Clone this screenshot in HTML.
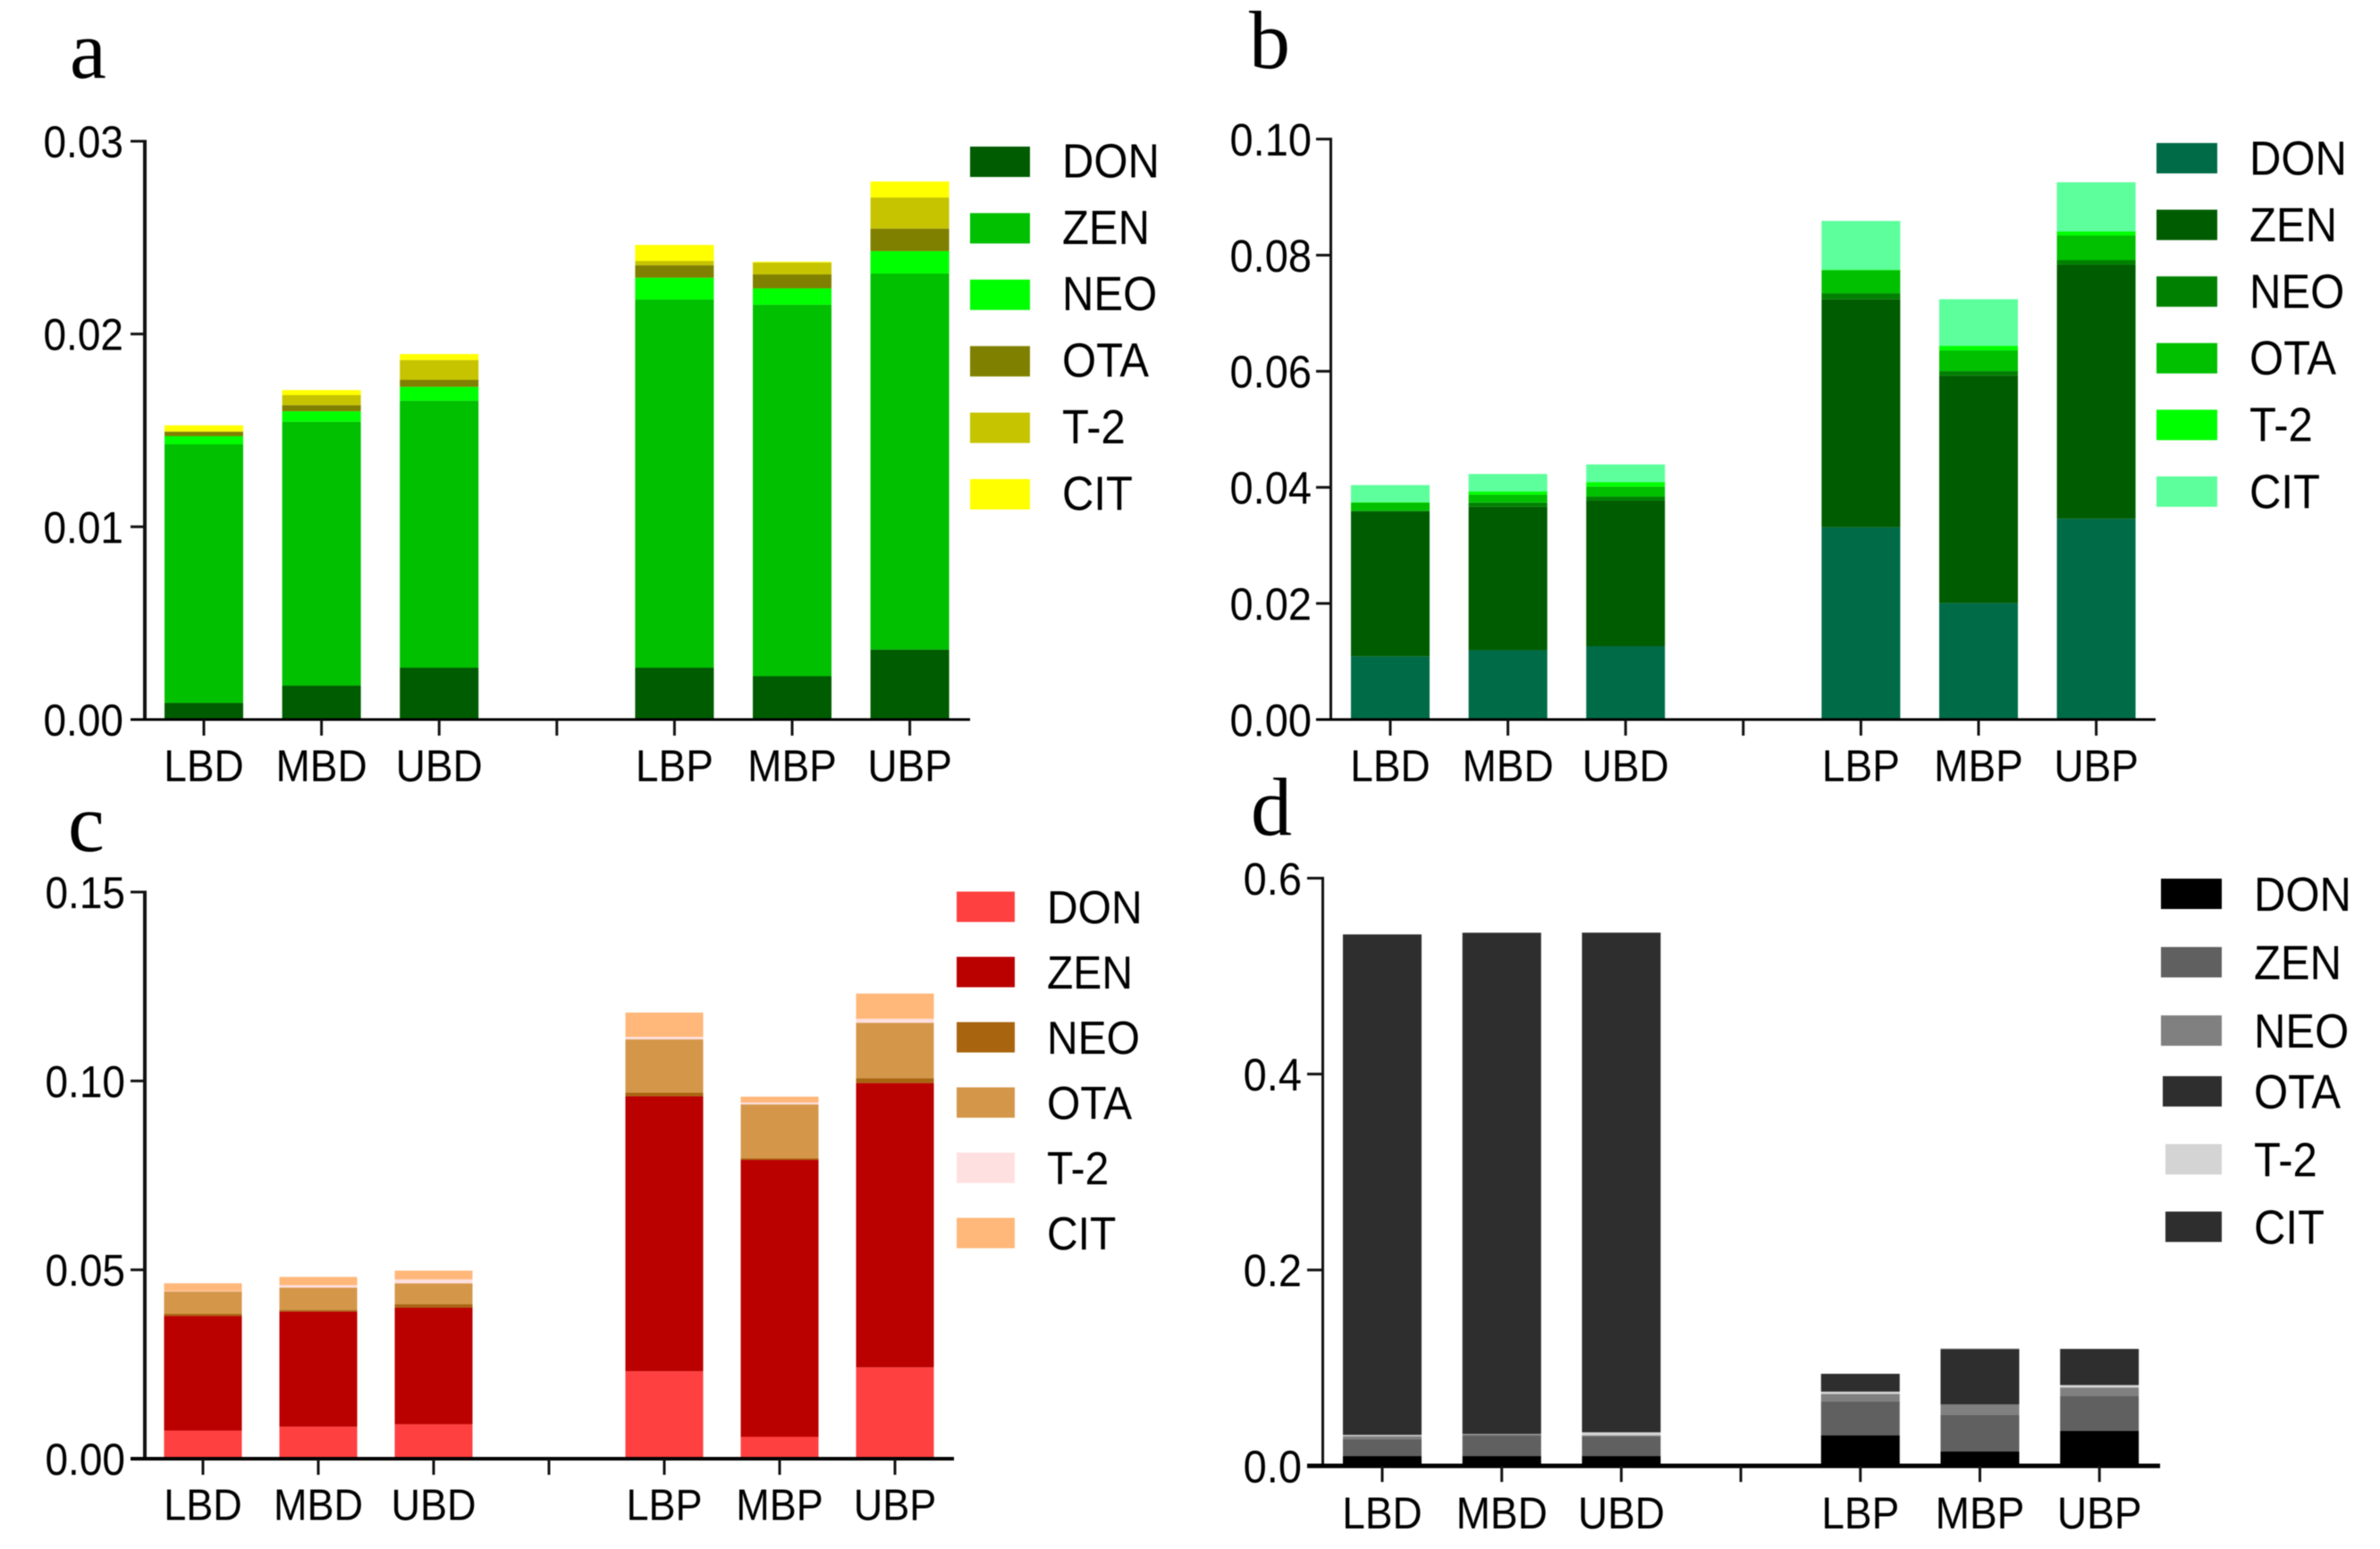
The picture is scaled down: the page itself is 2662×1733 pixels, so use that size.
<!DOCTYPE html>
<html lang="en">
<head>
<meta charset="utf-8">
<title>Stacked mycotoxin bar charts</title>
<style>
html,body{margin:0;padding:0;background:#fff;}
#figure{display:block;width:2662px;height:1733px;filter:blur(0.5px);}
text{font-family:"Liberation Sans",Arial,sans-serif;fill:#000;}
.panel-letter{font-family:"Liberation Serif","Times New Roman",serif;}
</style>
</head>
<body>
<svg id="figure" xmlns="http://www.w3.org/2000/svg" width="2662" height="1733" viewBox="0 0 2662 1733"></svg>
<script>
const categories = ['LBD', 'MBD', 'UBD', 'LBP', 'MBP', 'UBP'];
const seriesNames = ['DON', 'ZEN', 'NEO', 'OTA', 'T-2', 'CIT'];

/* panel a */
const aDON = [0.00086, 0.00176, 0.00269, 0.00269, 0.00225, 0.00363];
const aZEN = [0.01342, 0.01369, 0.01385, 0.01910, 0.01927, 0.01951];
const aNEO = [0.00042, 0.00054, 0.00072, 0.00113, 0.00085, 0.00116];
const aOTA = [0.00023, 0.00032, 0.00036, 0.00065, 0.00072, 0.00117];
const aT2 = [0.00001, 0.00052, 0.00103, 0.00022, 0.00062, 0.00161];
const aCIT = [0.00032, 0.00026, 0.00031, 0.00083, 0.00004, 0.00083];
const aTicks = [0, 0.01, 0.02, 0.03];
const aTickLabels = ['0.00', '0.01', '0.02', '0.03'];
const aColors = ['#005c00', '#00c000', '#00ff00', '#808000', '#c6c400', '#ffff00'];

/* panel b */
const bDON = [0.0109, 0.01194, 0.01263, 0.03313, 0.02007, 0.0346];
const bZEN = [0.02491, 0.02474, 0.02509, 0.03927, 0.03919, 0.04377];
const bNEO = [0.00017, 0.00069, 0.00069, 0.00104, 0.00078, 0.00078];
const bOTA = [0.00138, 0.00138, 0.00173, 0.00398, 0.00355, 0.00424];
const bT2 = [0.00009, 0.00052, 0.00078, 0.00009, 0.00078, 0.00069];
const bCIT = [0.00294, 0.00303, 0.00303, 0.00839, 0.00804, 0.00848];
const bTicks = [0, 0.02, 0.04, 0.06, 0.08, 0.10];
const bTickLabels = ['0.00', '0.02', '0.04', '0.06', '0.08', '0.10'];
const bColors = ['#006b47', '#005c00', '#008000', '#00c000', '#00ff00', '#5cff9c'];

/* panel c */
const cDON = [0.00746, 0.00849, 0.00913, 0.02316, 0.00579, 0.02419];
const cZEN = [0.03036, 0.03049, 0.03088, 0.07282, 0.07333, 0.07526];
const cNEO = [0.00051, 0.00039, 0.0009, 0.0009, 0.00039, 0.00129];
const cOTA = [0.00592, 0.00592, 0.00553, 0.01415, 0.01428, 0.01467];
const cT2 = [0.00013, 0.00064, 0.00103, 0.00064, 0.00051, 0.00103];
const cCIT = [0.00206, 0.00219, 0.00232, 0.00643, 0.00154, 0.00669];
const cTicks = [0, 0.05, 0.10, 0.15];
const cTickLabels = ['0.00', '0.05', '0.10', '0.15'];
const cColors = ['#ff4040', '#bb0000', '#a8640f', '#d4974a', '#ffe0e0', '#ffb87a'];

/* panel d */
const dDON = [0.01, 0.01, 0.01, 0.0313, 0.0146, 0.0356];
const dZEN = [0.0173, 0.021, 0.0203, 0.0347, 0.0377, 0.0359];
const dNEO = [0.0025, 0.0007, 0.0006, 0.007, 0.0104, 0.0082];
const dOTA = [0.0003, 0.0003, 0.0003, 0.0003, 0.0566, 0.0003];
const dT2 = [0.0015, 0.0005, 0.0031, 0.0025, 0.0002, 0.0025];
const dCIT = [0.511, 0.5118, 0.5101, 0.0182, 0.0002, 0.0369];
const dTicks = [0, 0.2, 0.4, 0.6];
const dTickLabels = ['0.0', '0.2', '0.4', '0.6'];
const dColors = ['#000000', '#606060', '#808080', '#2e2e2e', '#d4d4d4', '#2e2e2e'];

const SVG_NS = 'http://www.w3.org/2000/svg';
const figure = document.getElementById('figure');

function addRect(parent, x, y, w, h, fill) {
  const el = document.createElementNS(SVG_NS, 'rect');
  el.setAttribute('x', x);
  el.setAttribute('y', y);
  el.setAttribute('width', w);
  el.setAttribute('height', h);
  el.setAttribute('fill', fill);
  parent.appendChild(el);
  return el;
}

function addText(parent, str, x, cy, size, anchor) {
  const stretch = 1.09;
  const baseline = cy + 0.358 * size * stretch;
  const el = document.createElementNS(SVG_NS, 'text');
  el.setAttribute('transform', 'translate(' + x + ',' + baseline + ') scale(1,' + stretch + ')');
  el.setAttribute('font-size', size);
  el.setAttribute('text-anchor', anchor);
  el.textContent = str;
  parent.appendChild(el);
  return el;
}

function drawPanel(p) {
  const group = document.createElementNS(SVG_NS, 'g');
  
  
  figure.appendChild(group);

  const yScale = function (v) { return p.yBase - (v / p.yMax) * (p.yBase - p.yTop); };
  const xScale = function (i) { return p.xStart + p.xStep * (i < 3 ? i : i + 1); };

  /* panel letter */
  const letter = document.createElementNS(SVG_NS, 'text');
  letter.setAttribute('x', p.letterX);
  letter.setAttribute('y', p.letterY);
  letter.setAttribute('font-size', 92);
  letter.setAttribute('class', 'panel-letter');
  letter.textContent = p.id;
  
  
  group.appendChild(letter);

  /* stacked bars */
  categories.forEach(function (cat, i) {
    let running = 0;
    p.series.forEach(function (values, s) {
      const low = yScale(running);
      running += values[i];
      const high = yScale(running);
      const seg = addRect(group, xScale(i) - p.barWidth / 2, high, p.barWidth, low - high, p.colors[s]);
      
      
    });
  });

  /* y axis */
  const yAxis = addRect(group, p.axisX - p.yAxisWidth / 2, p.yTop - 1.5, p.yAxisWidth, p.yBase - p.yTop + 3, '#111');
  
  

  p.ticks.forEach(function (t, i) {
    const mark = addRect(group, p.tickStart, yScale(t) - 1.5, p.axisX - p.tickStart, 3, '#111');
    
    
    const lab = addText(group, p.tickLabels[i], p.tickLabelRight, yScale(t), p.tickFont, 'end');
    
    
  });

  /* x axis */
  const xAxis = addRect(group, p.tickStart, p.yBase - p.xAxisWidth / 2, p.xAxisEnd - p.tickStart, p.xAxisWidth, '#000');
  
  

  const gapTick = addRect(group, p.xStart + p.xStep * 3 - 1.5, p.yBase, 3, p.xTickLen, '#111');
  
  

  categories.forEach(function (cat, i) {
    const mark = addRect(group, xScale(i) - 1.5, p.yBase, 3, p.xTickLen, '#111');
    
    
    const lab = addText(group, cat, xScale(i), p.xLabelY, p.xFont, 'middle');
    
    
  });

  /* legend */
  seriesNames.forEach(function (name, i) {
    const rowY = p.legendY + p.legendStep * i + p.legendNudge[i];
    const entry = document.createElementNS(SVG_NS, 'g');
    
    
    group.appendChild(entry);
    const swatch = addRect(entry, p.legendX + p.legendIndent[i], rowY, p.legendW - p.legendIndent[i], 34, p.colors[i]);
    
    
    const label = addText(entry, name, p.legendTextX, rowY + 17 + p.legendTextDy, p.legendFont, 'start');
    
    
  });
}

drawPanel({
  id: 'a', series: [aDON, aZEN, aNEO, aOTA, aT2, aCIT], colors: aColors,
  ticks: aTicks, tickLabels: aTickLabels, yMax: 0.03, yBase: 805, yTop: 158,
  axisX: 162, yAxisWidth: 4, xAxisWidth: 3, tickStart: 146, xAxisEnd: 1085,
  tickLabelRight: 138, tickFont: 46, xStart: 228, xStep: 131.6, barWidth: 88,
  xTickLen: 18, xLabelY: 856, xFont: 46, letterX: 78, letterY: 87,
  legendX: 1085, legendW: 67, legendY: 164, legendStep: 74.4,
  legendNudge: [0, 0, 0, 0, 0, 0], legendIndent: [0, 0, 0, 0, 0, 0],
  legendTextX: 1188, legendFont: 49, legendTextDy: -1.7
});

drawPanel({
  id: 'b', series: [bDON, bZEN, bNEO, bOTA, bT2, bCIT], colors: bColors,
  ticks: bTicks, tickLabels: bTickLabels, yMax: 0.10, yBase: 805, yTop: 155.6,
  axisX: 1488.5, yAxisWidth: 3, xAxisWidth: 3, tickStart: 1472, xAxisEnd: 2411,
  tickLabelRight: 1467, tickFont: 47, xStart: 1555, xStep: 131.6, barWidth: 88,
  xTickLen: 18, xLabelY: 856, xFont: 46, letterX: 1397, letterY: 76,
  legendX: 2412, legendW: 68, legendY: 160, legendStep: 74.6,
  legendNudge: [0, 0, 0, 0, 0, 0], legendIndent: [0, 0, 0, 0, 0, 0],
  legendTextX: 2516, legendFont: 49, legendTextDy: -0.8
});

drawPanel({
  id: 'c', series: [cDON, cZEN, cNEO, cOTA, cT2, cCIT], colors: cColors,
  ticks: cTicks, tickLabels: cTickLabels, yMax: 0.15, yBase: 1632, yTop: 998,
  axisX: 162, yAxisWidth: 4, xAxisWidth: 4, tickStart: 146, xAxisEnd: 1067,
  tickLabelRight: 140, tickFont: 46, xStart: 227, xStep: 129, barWidth: 87,
  xTickLen: 18, xLabelY: 1683, xFont: 45, letterX: 76, letterY: 952,
  legendX: 1070, legendW: 65, legendY: 997.5, legendStep: 73,
  legendNudge: [0, 0, 0, 0, 0, 0], legendIndent: [0, 0, 0, 0, 0, 0],
  legendTextX: 1171, legendFont: 48, legendTextDy: 0
});

drawPanel({
  id: 'd', series: [dDON, dZEN, dNEO, dOTA, dT2, dCIT], colors: dColors,
  ticks: dTicks, tickLabels: dTickLabels, yMax: 0.6, yBase: 1640, yTop: 982.5,
  axisX: 1479.5, yAxisWidth: 3, xAxisWidth: 5, tickStart: 1462, xAxisEnd: 2416,
  tickLabelRight: 1456, tickFont: 47, xStart: 1546, xStep: 133.7, barWidth: 88,
  xTickLen: 18, xLabelY: 1692, xFont: 46, letterX: 1399, letterY: 934,
  legendX: 2417, legendW: 68, legendY: 983, legendStep: 74.5,
  legendNudge: [0, 2, 4, -2.5, -1, 0], legendIndent: [0, 0, 0, 2, 5, 5],
  legendTextX: 2521, legendFont: 49, legendTextDy: 0
});
</script>
</body>
</html>
